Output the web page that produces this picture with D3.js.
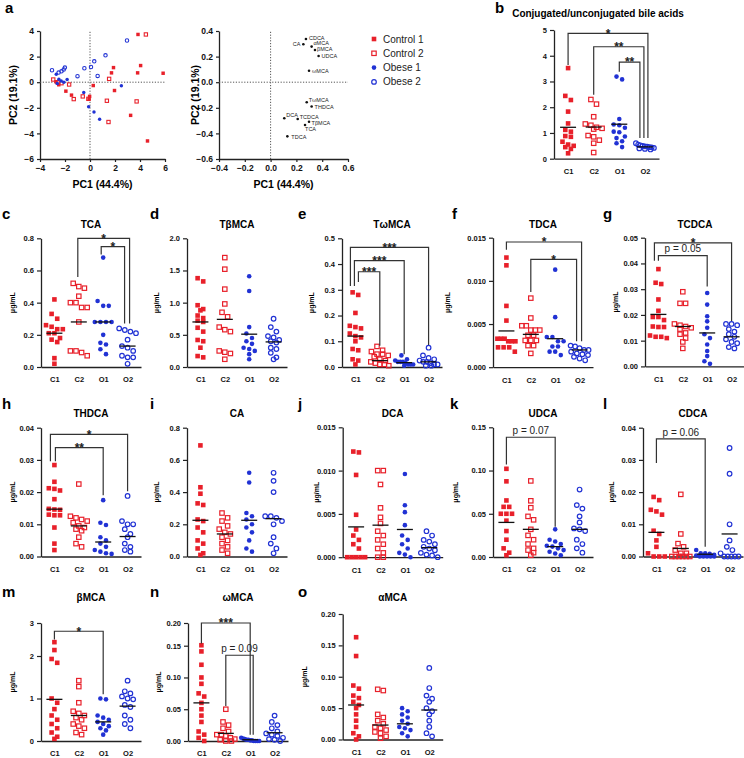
<!DOCTYPE html>
<html><head><meta charset="utf-8">
<script src="https://cdn.jsdelivr.net/npm/d3@7"></script>
<style>body{margin:0;background:#fff}svg{display:block}text{font-family:Arial,"Liberation Sans",Helvetica,sans-serif}</style>
</head><body><svg id="fig" width="744" height="758"></svg>
<script>
// ---------------- DATA ----------------
const groups = ["C1","C2","O1","O2"];
const legendLabels = ["Control 1","Control 2","Obese 1","Obese 2"];

// PCA scores (PC1, PC2)
const scoreControl1 = [[3.84,3.73],[5.85,0.70],[4.05,1.30],[3.81,0.73],[1.88,1.14],[1.72,0.73],[1.96,-0.65],[0.26,-0.26],[-0.03,-1.11],[-0.08,-1.32],[-1.48,-1.01],[-1.93,-0.70],[3.25,-2.59],[4.60,-4.59],[-2.72,0.03],[-2.50,-0.20]];
const scoreControl2 = [[4.47,3.73],[1.53,0.26],[1.35,-1.45],[3.73,-1.50],[1.48,-3.11],[-0.58,-1.11],[-0.13,-1.30],[-1.30,-1.32],[-1.67,-0.18],[-2.94,0.21],[-2.28,-0.08],[-2.60,0.00]];
const scoreObese1 = [[2.51,-0.28],[-0.11,-1.92],[0.32,-2.33],[0.77,-2.90],[-0.50,-0.80],[-1.83,0.21],[-2.09,0.00],[-2.70,0.62],[-2.49,0.23],[-2.62,-0.10],[-2.30,0.10]];
const scoreObese2 = [[2.96,3.26],[1.24,2.10],[0.34,1.63],[0.08,1.19],[0.61,0.49],[-0.45,1.09],[-1.00,0.47],[-2.01,1.14],[-2.28,0.85],[-2.51,0.75],[-3.04,0.93],[-2.10,1.00]];

// PCA loadings
const loadingNames = ["CDCA","CA","αMCA","βMCA","UDCA","ωMCA","TωMCA","THDCA","DCA","TCDCA","TβMCA","TCA","TDCA"];
const loadingPC1 = [0.274,0.254,0.318,0.344,0.372,0.298,0.280,0.318,0.106,0.210,0.298,0.267,0.130];
const loadingPC2 = [0.337,0.296,0.278,0.252,0.205,0.090,-0.157,-0.190,-0.282,-0.288,-0.309,-0.334,-0.423];

// Dot-plot values per panel (group -> values), and the group mean lines
const ratioVals = {C1:[3.52,2.44,2.28,1.83,1.37,1.12,1.05,0.88,0.85,0.66,0.55,0.50,0.45,0.38,0.21],
  C2:[2.30,2.12,1.63,1.35,1.30,1.22,1.18,1.15,0.90,0.85,0.72,0.60,0.24],
  O1:[3.19,3.08,1.54,1.33,1.30,1.20,1.05,1.03,0.86,0.80,0.68,0.60,0.45],
  O2:[0.60,0.55,0.52,0.50,0.48,0.47,0.45,0.44,0.42,0.40,0.38,0.36]};
const ratioMeans = [1.22,1.23,1.34,0.46];

const TCAvals = {C1:[0.42,0.33,0.30,0.26,0.25,0.235,0.235,0.21,0.21,0.18,0.17,0.155,0.055,0.02],
  C2:[0.52,0.50,0.49,0.44,0.40,0.40,0.37,0.37,0.28,0.10,0.10,0.09,0.07],
  O1:[0.68,0.41,0.38,0.38,0.28,0.28,0.28,0.28,0.20,0.15,0.14,0.11,0.08],
  O2:[0.24,0.23,0.22,0.21,0.17,0.13,0.12,0.10,0.07,0.06,0.06,0.02]};
const TCAmeans = [0.21,0.28,0.28,0.13];

const TbMCAvals = {C1:[1.38,1.33,0.96,0.90,0.88,0.80,0.76,0.72,0.70,0.61,0.55,0.42,0.40,0.30,0.17,0.15],
  C2:[1.70,1.52,1.21,0.98,0.85,0.78,0.62,0.58,0.55,0.25,0.23,0.21,0.12],
  O1:[1.41,1.18,0.62,0.52,0.45,0.40,0.36,0.30,0.28,0.25,0.20,0.12],
  O2:[0.75,0.62,0.55,0.48,0.46,0.42,0.40,0.38,0.30,0.28,0.22,0.15,0.12]};
const TbMCAmeans = [0.70,0.74,0.51,0.39];

const TwMCAvals = {C1:[0.29,0.28,0.21,0.16,0.155,0.15,0.13,0.12,0.115,0.10,0.07,0.065,0.03,0.025,0.01],
  C2:[0.08,0.065,0.06,0.05,0.05,0.045,0.04,0.03,0.025,0.02,0.015,0.01,0.01,0.005],
  O1:[0.045,0.03,0.025,0.02,0.02,0.02,0.015,0.01,0.01,0.01,0.005],
  O2:[0.075,0.045,0.035,0.03,0.025,0.02,0.02,0.015,0.01,0.01,0.005,0.005]};
const TwMCAmeans = [0.12,0.025,0.017,0.02];

const TDCAvals = {C1:[0.0127,0.0118,0.0071,0.0054,0.0033,0.0033,0.0033,0.0030,0.0030,0.0030,0.0023,0.0023,0.0023,0.0018],
  C2:[0.0080,0.0057,0.0048,0.0048,0.0043,0.0043,0.0043,0.0037,0.0037,0.0031,0.0031,0.0031,0.0025,0.0025,0.0016],
  O1:[0.0113,0.0058,0.0035,0.0035,0.0030,0.0030,0.0024,0.0024,0.0018,0.0018,0.0014],
  O2:[0.0025,0.0024,0.0022,0.0020,0.0020,0.0018,0.0016,0.0015,0.0014,0.0012,0.0010,0.0008]};
const TDCAmeans = [0.0042,0.0038,0.0033,0.0020];

const TCDCAvals = {C1:[0.0378,0.032,0.0325,0.026,0.0216,0.0192,0.0192,0.018,0.0153,0.0153,0.0155,0.0115,0.0115,0.012,0.011],
  C2:[0.029,0.0245,0.0245,0.0165,0.016,0.0155,0.015,0.0145,0.013,0.0125,0.011,0.0095,0.007],
  O1:[0.0285,0.024,0.0195,0.0175,0.015,0.0125,0.011,0.0085,0.006,0.004,0.002,0.001],
  O2:[0.0165,0.0165,0.016,0.0145,0.0135,0.0125,0.0115,0.0105,0.0095,0.009,0.0075,0.007]};
const TCDCAmeans = [0.0202,0.0155,0.013,0.0115];

const THDCAvals = {C1:[0.0284,0.0232,0.0212,0.021,0.0205,0.0178,0.0148,0.0146,0.0145,0.013,0.0128,0.0128,0.009,0.004,0.002],
  C2:[0.0225,0.0125,0.012,0.0115,0.011,0.0105,0.0095,0.009,0.0085,0.008,0.006,0.004,0.003],
  O1:[0.0175,0.0105,0.0098,0.006,0.005,0.004,0.003,0.002,0.0015,0.001,0.0008],
  O2:[0.0188,0.011,0.010,0.010,0.0085,0.007,0.006,0.004,0.003,0.002,0.0015]};
const THDCAmeans = [0.0147,0.0095,0.0045,0.0062];

const CAvals = {C1:[0.69,0.43,0.39,0.33,0.32,0.23,0.22,0.18,0.15,0.10,0.08,0.05,0.02,0.01],
  C2:[0.27,0.24,0.22,0.19,0.17,0.15,0.14,0.12,0.10,0.08,0.06,0.04,0.02],
  O1:[0.52,0.46,0.27,0.25,0.23,0.20,0.18,0.15,0.10,0.05,0.03],
  O2:[0.52,0.47,0.40,0.25,0.25,0.24,0.22,0.20,0.12,0.08,0.05,0.02]};
const CAmeans = [0.225,0.14,0.225,0.235];

const DCAvals = {C1:[0.0122,0.0121,0.0095,0.0049,0.0032,0.0025,0.0020,0.0015,0.0010,0,0,0,0,0],
  C2:[0.0100,0.0100,0.0084,0.0057,0.0046,0.0039,0.0030,0.0025,0.0020,0.0015,0.0010,0.0005,0,0],
  O1:[0.0096,0.0060,0.0052,0.0037,0.0025,0.0020,0.0015,0.0010,0.0005,0.0003,0],
  O2:[0.0030,0.0025,0.0020,0.0018,0.0015,0.0012,0.0010,0.0008,0.0005,0.0003,0.0002,0]};
const DCAmeans = [0.0035,0.0037,0.0032,0.0011];

const UDCAvals = {C1:[0.102,0.0875,0.0654,0.058,0.058,0.05,0.05,0.05,0.042,0.03,0.02,0.01,0.005,0.002],
  C2:[0.088,0.065,0.057,0.047,0.043,0.032,0.025,0.02,0.015,0.01,0.008,0.005,0.002],
  O1:[0.032,0.02,0.018,0.015,0.013,0.012,0.010,0.008,0.006,0.004,0.002],
  O2:[0.078,0.060,0.056,0.047,0.040,0.033,0.032,0.030,0.020,0.015,0.010,0.005]};
const UDCAmeans = [0.040,0.032,0.012,0.032];

const CDCAvals = {C1:[0.0185,0.0175,0.0145,0.014,0.013,0.008,0.007,0.005,0.003,0.001,0,0,0],
  C2:[0.0193,0.007,0.004,0.003,0.002,0.001,0.001,0,0,0,0,0,0],
  O1:[0.002,0.001,0.001,0.0008,0.0005,0.0003,0,0,0,0,0],
  O2:[0.0337,0.0257,0.010,0.005,0.003,0.002,0.001,0,0,0,0,0]};
const CDCAmeans = [0.0075,0.0025,0.0007,0.007];

const bMCAvals = {C1:[2.42,2.18,1.93,1.84,1.00,0.90,0.75,0.60,0.50,0.40,0.30,0.20,0.10,0.05],
  C2:[1.42,1.28,0.90,0.70,0.65,0.60,0.55,0.50,0.40,0.35,0.30,0.20,0.15],
  O1:[1.00,0.98,0.60,0.55,0.50,0.45,0.40,0.35,0.30,0.25,0.15],
  O2:[1.42,1.17,1.12,1.05,1.00,0.98,0.85,0.80,0.60,0.50,0.40,0.30]};
const bMCAmeans = [0.98,0.60,0.45,0.82];

const wMCAvals = {C1:[0.151,0.141,0.12,0.10,0.09,0.075,0.07,0.06,0.05,0.04,0.03,0.015,0.01,0.005,0],
  C2:[0.05,0.03,0.025,0.02,0.015,0.01,0.01,0.008,0.005,0.003,0.002,0,0],
  O1:[0.005,0.004,0.003,0.002,0.002,0.001,0.001,0,0,0,0],
  O2:[0.04,0.03,0.025,0.02,0.015,0.012,0.01,0.008,0.005,0.003,0.002,0]};
const wMCAmeans = [0.06,0.012,0.002,0.013];

const aMCAvals = {C1:[0.163,0.133,0.086,0.081,0.070,0.066,0.060,0.055,0.050,0.040,0.030,0.020,0.010,0.005,0],
  C2:[0.080,0.078,0.040,0.035,0.030,0.025,0.020,0.018,0.015,0.012,0.010,0.005,0.002],
  O1:[0.050,0.045,0.040,0.035,0.030,0.025,0.020,0.018,0.015,0.010,0.005],
  O2:[0.114,0.082,0.070,0.065,0.060,0.050,0.045,0.040,0.030,0.020,0.010,0.005]};
const aMCAmeans = [0.055,0.023,0.025,0.047];

// significance brackets: [from, to, level, leftEnd, rightEnd, label]
const ratioSig = [["C1","O2",4.87,3.64,0.80,"*"],["C2","O2",4.35,2.48,0.80,"**"],["O1","O2",3.75,3.38,0.80,"**"]];
const TCAsig = [["C2","O2",0.80,0.56,0.27,"*"],["O1","O2",0.748,0.70,0.27,"*"]];
const TwMCAsig = [["C1","O2",0.465,0.315,0.085,"***"],["C1","O1",0.413,0.315,0.05,"***"],["C1","C2",0.37,0.33,0.083,"***"]];
const TDCAsig = [["C1","O2",0.0145,0.0136,0.003,"*"],["C2","O2",0.0125,0.0087,0.003,"*"]];
const TCDCAsig = [["C1","O2",0.048,0.041,0.0176,"*"],["C1","O1",0.043,0.041,0.031,"p = 0.05"]];
const THDCAsig = [["C1","O2",0.0379,0.0296,0.0203,"*"],["C1","O1",0.0338,0.0296,0.019,"**"]];
const UDCAsig = [["C1","O1",0.1385,0.107,0.035,"p = 0.07"]];
const CDCAsig = [["C1","O1",0.0365,0.029,0.003,"p = 0.06"]];
const bMCAsig = [["C1","O1",2.75,2.5,1.1,"*"]];
const wMCAsig = [["C1","O1",0.20,0.155,0.01,"***"],["C2","O1",0.135,0.055,0.01,"p = 0.09"]];

// ---------------- LAYOUT ----------------
const RED = "#e8202a", BLUE = "#2132d4", INK = "#222";
const svg = d3.select("#fig");
const f1 = d3.format(".1f"), f2 = d3.format(".2f"), f3 = d3.format(".3f"), f0 = d3.format("d");

const panels = [
 {L:"b", title:"Conjugated/unconjugated bile acids", vals:ratioVals, means:ratioMeans, sig:ratioSig, x0:554, w:105, top:30, bot:158.7, max:5, ticks:[0,1,2,3,4,5], fmt:f0, ylab:null, lx:495, ly:13, tx:598, ty:17, dx:[[0,3],[0,-1],[0,-5]]},
 {L:"c", title:"TCA", vals:TCAvals, means:TCAmeans, sig:TCAsig, x0:41, top:238.3, bot:367, max:0.8, ticks:[0,0.2,0.4,0.6,0.8], fmt:f1, ylab:12.5, lx:2, ly:219, ty:228, dx:[[-1,2],[-2,-3]]},
 {L:"d", title:"TβMCA", vals:TbMCAvals, means:TbMCAmeans, sig:[], x0:187, top:238.3, bot:367, max:2, ticks:[0,0.5,1,1.5,2], fmt:f1, ylab:157, lx:150, ly:219, ty:228},
 {L:"e", title:"TωMCA", vals:TwMCAvals, means:TwMCAmeans, sig:TwMCAsig, x0:342, top:238.3, bot:367, max:0.5, ticks:[0,0.1,0.2,0.3,0.4,0.5], fmt:f1, ylab:312, lx:298, ly:219, ty:228, dx:[[-5,0],[-1,0],[3,0]]},
 {L:"f", title:"TDCA", vals:TDCAvals, means:TDCAmeans, sig:TDCAsig, x0:493, top:237.7, bot:367.2, max:0.015, ticks:[0,0.005,0.01,0.015], fmt:f3, ylab:448, lx:452, ly:219, ty:228, dx:[[0,2],[0,-3]]},
 {L:"g", title:"TCDCA", vals:TCDCAvals, means:TCDCAmeans, sig:TCDCAsig, x0:645, top:237.7, bot:366.4, max:0.05, ticks:[0,0.01,0.02,0.03,0.04,0.05], fmt:f2, ylab:616, lx:603, ly:219, ty:228, dx:[[-4,0],[0,0]]},
 {L:"h", title:"THDCA", vals:THDCAvals, means:THDCAmeans, sig:THDCAsig, x0:41, top:427.7, bot:556.5, max:0.04, ticks:[0,0.01,0.02,0.03,0.04], fmt:f2, ylab:12.5, lx:2, ly:409, ty:417, dx:[[-4,0],[1,0]]},
 {L:"i", title:"CA", vals:CAvals, means:CAmeans, sig:[], x0:187, top:427.7, bot:556.5, max:0.8, ticks:[0,0.2,0.4,0.6,0.8], fmt:f1, ylab:157, lx:150, ly:409, ty:417},
 {L:"j", title:"DCA", vals:DCAvals, means:DCAmeans, sig:[], x0:342.7, top:427.3, bot:557.2, max:0.015, ticks:[0,0.005,0.01,0.015], fmt:f3, ylab:317, lx:298, ly:409, ty:417},
 {L:"k", title:"UDCA", vals:UDCAvals, means:UDCAmeans, sig:UDCAsig, x0:493, top:427.3, bot:557, max:0.15, ticks:[0,0.05,0.1,0.15], fmt:f2, ylab:456, lx:450, ly:409, ty:417, dx:[[0,0]]},
 {L:"l", title:"CDCA", vals:CDCAvals, means:CDCAmeans, sig:CDCAsig, x0:643, top:427.7, bot:556.5, max:0.04, ticks:[0,0.01,0.02,0.03,0.04], fmt:f2, ylab:612, lx:603, ly:409, ty:417, dx:[[0,0]]},
 {L:"m", title:"βMCA", vals:bMCAvals, means:bMCAmeans, sig:bMCAsig, x0:41, ydom:[0,2,3], yrng:[741,656,623], ticks:[0,1,2,3], fmt:f0, ylab:12.5, lx:2, ly:597, ty:601, dx:[[0,0]]},
 {L:"n", title:"ωMCA", vals:wMCAvals, means:wMCAmeans, sig:wMCAsig, x0:188, ydom:[0,0.15,0.2], yrng:[741,645.7,623], ticks:[0,0.05,0.1,0.15,0.2], fmt:f2, ylab:159, lx:150, ly:597, ty:601, dx:[[0,0],[0,3]]},
 {L:"o", title:"αMCA", vals:aMCAvals, means:aMCAmeans, sig:[], x0:342.7, top:614, bot:739.5, max:0.2, ticks:[0,0.05,0.1,0.15,0.2], fmt:f2, ylab:305, lx:298, ly:597, ty:601}
];

function symbol(g, grp, cx, cy, k) {
  if (grp === "C1") g.append("rect").attr("x", cx-2.3*k).attr("y", cy-2.3*k).attr("width", 4.6*k).attr("height", 4.6*k).attr("fill", RED);
  else if (grp === "C2") g.append("rect").attr("x", cx-2.2*k).attr("y", cy-2.2*k).attr("width", 4.4*k).attr("height", 4.4*k).attr("fill", "none").attr("stroke", RED).attr("stroke-width", 1.2*Math.min(1,k+0.15));
  else if (grp === "O1") g.append("circle").attr("cx", cx).attr("cy", cy).attr("r", 2.3*k).attr("fill", BLUE);
  else g.append("circle").attr("cx", cx).attr("cy", cy).attr("r", 2.3*k).attr("fill", "none").attr("stroke", BLUE).attr("stroke-width", 1.2*Math.min(1,k+0.15));
}

function swarm(values, y, cx, dia, maxHalf) {
  const pts = values.map(v => ({v, py: y(v)})).sort((a, b) => a.py - b.py);
  const rows = [];
  pts.forEach(p => { const r = rows[rows.length-1]; if (r && p.py - r[0].py < dia) r.push(p); else rows.push([p]); });
  rows.forEach(r => { const n = r.length; const s = n > 1 ? Math.min(dia + 0.6, 2*maxHalf/(n-1)) : 0; r.forEach((p, i) => p.px = cx + (i - (n-1)/2)*s); });
  return pts;
}

function styleAxis(a, size) {
  a.select(".domain").attr("stroke", INK).attr("stroke-width", 1.3);
  a.selectAll(".tick line").attr("stroke", INK).attr("stroke-width", 1.2);
  a.selectAll("text").attr("font-size", size).attr("font-weight", "bold").attr("fill", "#111").style("font-family", "Arial, 'Liberation Sans', sans-serif");
}

panels.forEach(p => {
  const g = svg.append("g");
  const x = d3.scalePoint().domain(groups).range([p.x0, p.x0 + (p.w || 100)]).padding(0.55);
  const y = d3.scaleLinear().domain(p.ydom || [0, p.max]).range(p.yrng || [p.bot, p.top]);
  const yr = y.range(), bot = yr[0], top = yr[yr.length-1];
  const ya = g.append("g").attr("transform", `translate(${p.x0},0)`)
    .call(d3.axisLeft(y).tickValues(p.ticks).tickFormat(p.fmt).tickSize(4).tickSizeOuter(0).tickPadding(3));
  styleAxis(ya, 7.5);
  const xa = g.append("g").attr("transform", `translate(0,${bot})`)
    .call(d3.axisBottom(x).tickSize(0).tickSizeOuter(0).tickPadding(10));
  styleAxis(xa, 7.5);
  g.append("text").attr("x", p.lx).attr("y", p.ly).attr("font-size", 15).attr("font-weight", "bold").text(p.L);
  g.append("text").attr("x", p.tx || (p.x0 + 50)).attr("y", p.ty).attr("text-anchor", "middle").attr("font-size", 10).attr("font-weight", "bold").text(p.title);
  if (p.ylab !== null) g.append("text").attr("transform", `translate(${p.ylab},${(top + bot)/2}) rotate(-90)`).attr("text-anchor", "middle").attr("dy", "0.35em").attr("font-size", 7).attr("font-weight", "bold").text("μg/mL");
  groups.forEach((grp, gi) => {
    const pts = swarm(p.vals[grp], y, x(grp), 5, 9);
    pts.forEach(pt => symbol(g, grp, pt.px, pt.py, 1));
    const m = p.means[gi];
    g.append("line").attr("x1", x(grp) - 8).attr("x2", x(grp) + 8).attr("y1", y(m)).attr("y2", y(m)).attr("stroke", "#111").attr("stroke-width", 1.3);
  });
  p.sig.forEach((s, i) => {
    const d = (p.dx && p.dx[i]) || [0, 0];
    const xl = x(s[0]) + d[0], xr = x(s[1]) + d[1];
    g.append("path").attr("d", `M${xl},${y(s[3])}V${y(s[2])}H${xr}V${y(s[4])}`).attr("fill", "none").attr("stroke", "#333").attr("stroke-width", 1.2);
    const star = s[5].indexOf("p") < 0;
    g.append("text").attr("x", (xl + xr)/2).attr("y", star ? y(s[2]) + 4.3 : y(s[2]) - 3.3)
      .attr("text-anchor", "middle").attr("font-size", star ? 12 : 10).attr("font-weight", star ? "bold" : "normal").attr("fill", "#222").text(s[5]);
  });
});

// ---------------- PANEL a ----------------
(function() {
  const g = svg.append("g");
  g.append("text").attr("x", 5).attr("y", 13).attr("font-size", 15).attr("font-weight", "bold").text("a");
  function frame(x, y, xt, yt, xf, yf, ylx) {
    const ya = g.append("g").attr("transform", `translate(${x.range()[0]},0)`).call(d3.axisLeft(y).tickValues(yt).tickFormat(yf).tickSize(3).tickSizeOuter(0).tickPadding(3));
    styleAxis(ya, 8.5);
    const xa = g.append("g").attr("transform", `translate(0,${y.range()[0]})`).call(d3.axisBottom(x).tickValues(xt).tickFormat(xf).tickSize(3).tickSizeOuter(0).tickPadding(3));
    styleAxis(xa, 8.5);
    g.append("line").attr("x1", x(0)).attr("x2", x(0)).attr("y1", y.range()[0]).attr("y2", y.range()[1]).attr("stroke", "#555").attr("stroke-dasharray", "1.2,1.6");
    g.append("line").attr("y1", y(0)).attr("y2", y(0)).attr("x1", x.range()[0]).attr("x2", x.range()[1]).attr("stroke", "#555").attr("stroke-dasharray", "1.2,1.6");
    g.append("text").attr("x", (x.range()[0] + x.range()[1])/2).attr("y", 188).attr("text-anchor", "middle").attr("font-size", 10.5).attr("font-weight", "bold").text("PC1 (44.4%)");
    g.append("text").attr("transform", `translate(${ylx},${(y.range()[0] + y.range()[1])/2}) rotate(-90)`).attr("text-anchor", "middle").attr("dy", "0.35em").attr("font-size", 10.5).attr("font-weight", "bold").text("PC2 (19.1%)");
  }
  const xs = d3.scaleLinear().domain([-4, 6]).range([40, 165]);
  const ys = d3.scaleLinear().domain([-6, 4]).range([159, 31]);
  frame(xs, ys, [-4,-2,0,2,4,6], [-6,-4,-2,0,2,4], f0, f0, 13);
  [[scoreControl2,"C2"],[scoreControl1,"C1"],[scoreObese2,"O2"],[scoreObese1,"O1"]].forEach(([arr, grp]) => {
    arr.forEach(d => symbol(g, grp, xs(d[0]), ys(d[1]), 0.75));
  });
  const xl = d3.scaleLinear().domain([-0.4, 0.6]).range([219, 348]);
  const yl = d3.scaleLinear().domain([-0.6, 0.4]).range([159, 31]);
  frame(xl, yl, [-0.4,-0.2,0,0.2,0.4,0.6], [-0.6,-0.4,-0.2,0,0.2,0.4], f1, f1, 195);
  const lab = {"CDCA":[3,-0.5,"start"], "CA":[-3,0,"end"], "αMCA":[1.8,-3.2,"start"], "βMCA":[2,-0.5,"start"], "UDCA":[3,0.5,"start"], "ωMCA":[3,0.5,"start"],
    "TωMCA":[2,-2.6,"start"], "THDCA":[3,0.5,"start"], "DCA":[2,-3.2,"start"], "TCDCA":[2,-2.4,"start"], "TβMCA":[2.5,1.6,"start"], "TCA":[0,4.6,"start"], "TDCA":[4,0.3,"start"]};
  loadingNames.forEach((n, i) => {
    const cx = xl(loadingPC1[i]), cy = yl(loadingPC2[i]);
    g.append("circle").attr("cx", cx).attr("cy", cy).attr("r", 1.3).attr("fill", "#111");
    const o = lab[n];
    g.append("text").attr("x", cx + o[0]).attr("y", cy + o[1]).attr("dy", "0.35em").attr("text-anchor", o[2]).attr("font-size", 5.5).attr("fill", "#222").text(n);
  });
  legendLabels.forEach((t, i) => {
    const ly = 39 + i*14.3;
    symbol(g, groups[i], 374, ly, 1);
    g.append("text").attr("x", 383).attr("y", ly).attr("dy", "0.35em").attr("font-size", 10).attr("fill", "#222").text(t);
  });
})();
</script></body></html>
